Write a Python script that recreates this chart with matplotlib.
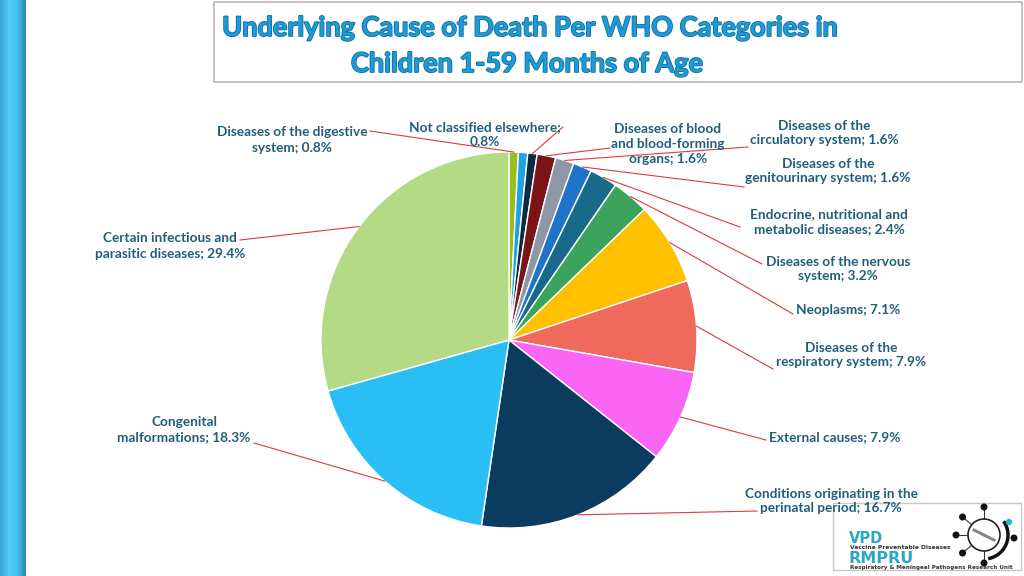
import numpy as np
import matplotlib
matplotlib.use("Agg")
import matplotlib.pyplot as plt
from matplotlib.patches import Rectangle, Circle, Arc
from matplotlib.colors import LinearSegmentedColormap
import matplotlib.patheffects as pe

# --- data (clockwise from 12 o'clock) ---
causes = [
    "Diseases of the digestive\nsystem",
    "",
    "Not classified elsewhere",
    "Diseases of blood\nand blood-forming\norgans",
    "Diseases of the\ncirculatory system",
    "Diseases of the\ngenitourinary system",
    "Endocrine, nutritional and\nmetabolic diseases",
    "Diseases of the nervous\nsystem",
    "Neoplasms",
    "Diseases of the\nrespiratory system",
    "External causes",
    "Conditions originating in the\nperinatal period",
    "Congenital\nmalformations",
    "Certain infectious and\nparasitic diseases",
]
percent = [0.8, 0.8, 0.8, 1.6, 1.6, 1.6, 2.4, 3.2, 7.1, 7.9, 7.9, 16.7, 18.3, 29.4]
seps = ["; ", "", ";\n", "; ", "; ", "; ", "; ", "; ", "; ", "; ", "; ", "; ", "; ", "; "]
colors = ["#95BE1E", "#1CA3E0", "#0F2A40", "#7A1517", "#8D97A5", "#1F74C9",
          "#19698A", "#3BA35B", "#FFC000", "#EF6A5C", "#FA66F3", "#0B3C60",
          "#2ABFF4", "#B4DA85"]

# label block centre and leader attach point (pixels, top-left origin)
label_pos = [(292, 140), None, (485, 135), (668, 144), (824, 133), (828, 171),
             (829, 222), (838, 269), (848, 310), (851, 355), (835, 437),
             (831, 501), (184, 430), (170, 246)]
attach = [(370, 131), None, (563, 127), (610, 148), (748, 147), (744, 187),
          (740, 227), (762, 264), (793, 314), (773, 369), (766, 440),
          (757, 511), (254, 443), (240, 240)]

W, H = 1024, 576
lab_col = "#215E7C"
line_col = "#E0393B"


def Y(y):
    return H - y


fig = plt.figure(figsize=(10.24, 5.76), dpi=100)
ax = fig.add_axes([0, 0, 1, 1])

explode = [0.0] * len(percent)
explode[-1] = 0.02
wedges, _ = ax.pie(percent, colors=colors, startangle=90, counterclock=False,
                   center=(509, Y(340)), radius=188, explode=explode,
                   wedgeprops=dict(edgecolor="white", linewidth=1))
ax.set_xlim(0, W)
ax.set_ylim(0, H)
ax.set_aspect("equal")
ax.axis("off")

# labels + leader lines
for i, w in enumerate(wedges):
    if label_pos[i] is None:
        continue
    txt = causes[i] + seps[i] + f"{percent[i]}%"
    lx, ly = label_pos[i]
    ax.text(lx, Y(ly), txt, ha="center", va="center", fontsize=9.8,
            fontweight="bold", color=lab_col, family="Lato", linespacing=1.3,
            zorder=10)
    th = np.deg2rad((w.theta1 + w.theta2) / 2)
    px = w.center[0] + w.r * np.cos(th)
    py = w.center[1] + w.r * np.sin(th)
    ax.plot([px, attach[i][0]], [py, Y(attach[i][1])], color=line_col, lw=0.8)

# left gradient bar
cmap = LinearSegmentedColormap.from_list("bar", ["#3AA6D6", "#52CBF4", "#4AC0EC", "#2A88B8"])
ax.imshow(np.linspace(0, 1, 50).reshape(1, -1), cmap=cmap, aspect="auto",
          extent=(0, 26, 0, H), zorder=0)

# title box
ax.add_patch(Rectangle((214, Y(82)), 808, 80, facecolor="white",
                       edgecolor="#BDBDBD", lw=1.3))
title_fx = [pe.withStroke(linewidth=1.2, foreground="#0E6F9E")]
ax.text(530, Y(28), "Underlying Cause of Death Per WHO Categories in",
        ha="center", va="center", fontsize=19.5, fontweight="bold",
        color="#1E9AD8", family="Lato", path_effects=title_fx)
ax.text(527, Y(64), "Children 1-59 Months of Age",
        ha="center", va="center", fontsize=19.5, fontweight="bold",
        color="#1E9AD8", family="Lato", path_effects=title_fx)

# logo
ax.add_patch(Rectangle((833, Y(570)), 188, 67, facecolor="white",
                       edgecolor="#C8C8C8", lw=1, zorder=2))
ax.text(849, Y(543), "VPD", fontsize=10.5, fontweight="bold", color="#2BA6C8",
        va="baseline", family="DejaVu Sans", zorder=3)
ax.text(850, Y(549), "Vaccine Preventable Diseases", fontsize=4.3,
        fontweight="bold", color="#333333", va="baseline", family="DejaVu Sans",
        zorder=3)
ax.text(849, Y(563), "RMPRU", fontsize=11.5, fontweight="bold", color="#2BA6C8",
        va="baseline", family="DejaVu Sans", zorder=3)
ax.text(850, Y(569), "Respiratory & Meningeal Pathogens Research Unit",
        fontsize=4.1, fontweight="bold", color="#333333", va="baseline",
        family="DejaVu Sans", zorder=3)
cx, cy = 984, Y(535)
ax.add_patch(Circle((cx, cy), 16, fill=False, edgecolor="#222222", lw=1.2, zorder=3))
ax.add_patch(Arc((cx, cy), 48, 48, theta1=-80, theta2=35, color="#111111",
                 lw=2.5, zorder=3))
for a in [90, 140, 180, 220, 270]:
    t = np.deg2rad(a)
    x0, y0 = cx + 16 * np.cos(t), cy + 16 * np.sin(t)
    x1, y1 = cx + 28 * np.cos(t), cy + 28 * np.sin(t)
    ax.plot([x0, x1], [y0, y1], color="#333333", lw=0.8, zorder=3)
    ax.add_patch(Circle((x1, y1), 2.8, color="#111111", zorder=3))
ax.add_patch(Circle((cx + 30, cy - 3), 2.8, color="#111111", zorder=3))
ax.add_patch(Circle((cx + 25, cy + 13), 2.5, color="#29B5CF", zorder=3))
ax.plot([cx - 10, cx + 10], [cy + 5, cy - 5], color="#888888", lw=2.2, zorder=3)

fig.savefig("out.png", dpi=100, facecolor="white")
